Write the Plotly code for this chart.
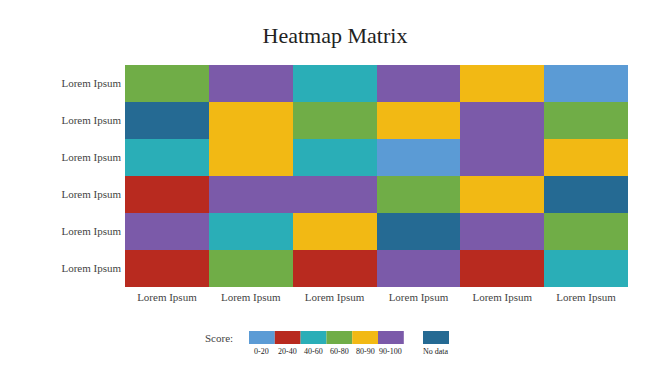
import plotly.graph_objects as go

# Data
categories = ["0-20", "20-40", "40-60", "60-80", "80-90", "90-100", "No data"]
colors = ["#5b9bd5", "#b82a1f", "#2aaeb7", "#70ad47", "#f2b914", "#7b5aa9", "#256a93"]
x_labels = ["Lorem Ipsum"] * 6
y_labels = ["Lorem Ipsum"] * 6  # top to bottom

# grid of score categories, top row first
grid = [
    ["60-80", "90-100", "40-60", "90-100", "80-90", "0-20"],
    ["No data", "80-90", "60-80", "80-90", "90-100", "60-80"],
    ["40-60", "80-90", "40-60", "0-20", "90-100", "80-90"],
    ["20-40", "90-100", "90-100", "60-80", "80-90", "No data"],
    ["90-100", "40-60", "80-90", "No data", "90-100", "60-80"],
    ["20-40", "60-80", "20-40", "90-100", "20-40", "40-60"],
]

n = len(categories)
z = [[categories.index(v) for v in row] for row in grid]

# discrete colorscale
cs = []
for i, c in enumerate(colors):
    cs.append([i / n, c])
    cs.append([(i + 1) / n, c])

fig = go.Figure(go.Heatmap(
    z=z,
    x=list(range(len(x_labels))),
    y=list(range(len(y_labels))),
    colorscale=cs,
    zmin=-0.5, zmax=n - 0.5,
    showscale=False,
    xgap=0, ygap=0,
))

font_family = "Liberation Serif, DejaVu Serif, serif"

W, H = 654, 360
fig.update_layout(
    width=W, height=H,
    margin=dict(l=117, r=34, t=57, b=81),
    plot_bgcolor="white", paper_bgcolor="white",
    title=dict(text="Heatmap Matrix", x=0.5, xref="container", y=0.925, yanchor="middle",
               font=dict(family=font_family, size=22, color="#222")),
    font=dict(family=font_family, color="#444"),
    xaxis=dict(tickvals=list(range(len(x_labels))), ticktext=x_labels, showgrid=False,
               zeroline=False, tickfont=dict(size=11, color="#444"), ticks="", ticklen=0,
               ticklabelstandoff=2, range=[-0.5, len(x_labels) - 0.5]),
    yaxis=dict(tickvals=list(range(len(y_labels))), ticktext=y_labels, autorange="reversed",
               showgrid=False, zeroline=False, tickfont=dict(size=11, color="#444"), ticks="",
               ticklabelstandoff=3, range=[len(y_labels) - 0.5, -0.5]),
)

# Legend (drawn as shapes; page-pixel positions mapped to paper coords)
PL, PR, PT, PB = 125, 628, 65, 287
pw, ph = PR - PL, PB - PT
def px(x):
    return (x - PL) / pw
def py(y):
    return (PB - y) / ph

box_w = 25.8
x0 = 249
y_top, y_bot = 331, 344
shapes = []
annotations = []
for i, (cat, col) in enumerate(zip(categories, colors)):
    if cat == "No data":
        bx0, bx1 = 423, 449
    else:
        bx0 = x0 + i * box_w
        bx1 = bx0 + box_w
    shapes.append(dict(type="rect", xref="paper", yref="paper",
                       x0=px(bx0), x1=px(bx1), y0=py(y_bot), y1=py(y_top),
                       fillcolor=col, line=dict(width=0)))
    annotations.append(dict(text=cat, xref="paper", yref="paper", x=px((bx0 + bx1) / 2),
                            y=py(351), showarrow=False, font=dict(size=8, color="#222"),
                            xanchor="center", yanchor="middle"))
annotations.append(dict(text="Score:", xref="paper", yref="paper", x=px(235), y=py(338),
                        showarrow=False, xanchor="right", yanchor="middle",
                        font=dict(size=11, color="#444")))
fig.update_layout(shapes=shapes, annotations=annotations)

fig.write_html("out.html")
